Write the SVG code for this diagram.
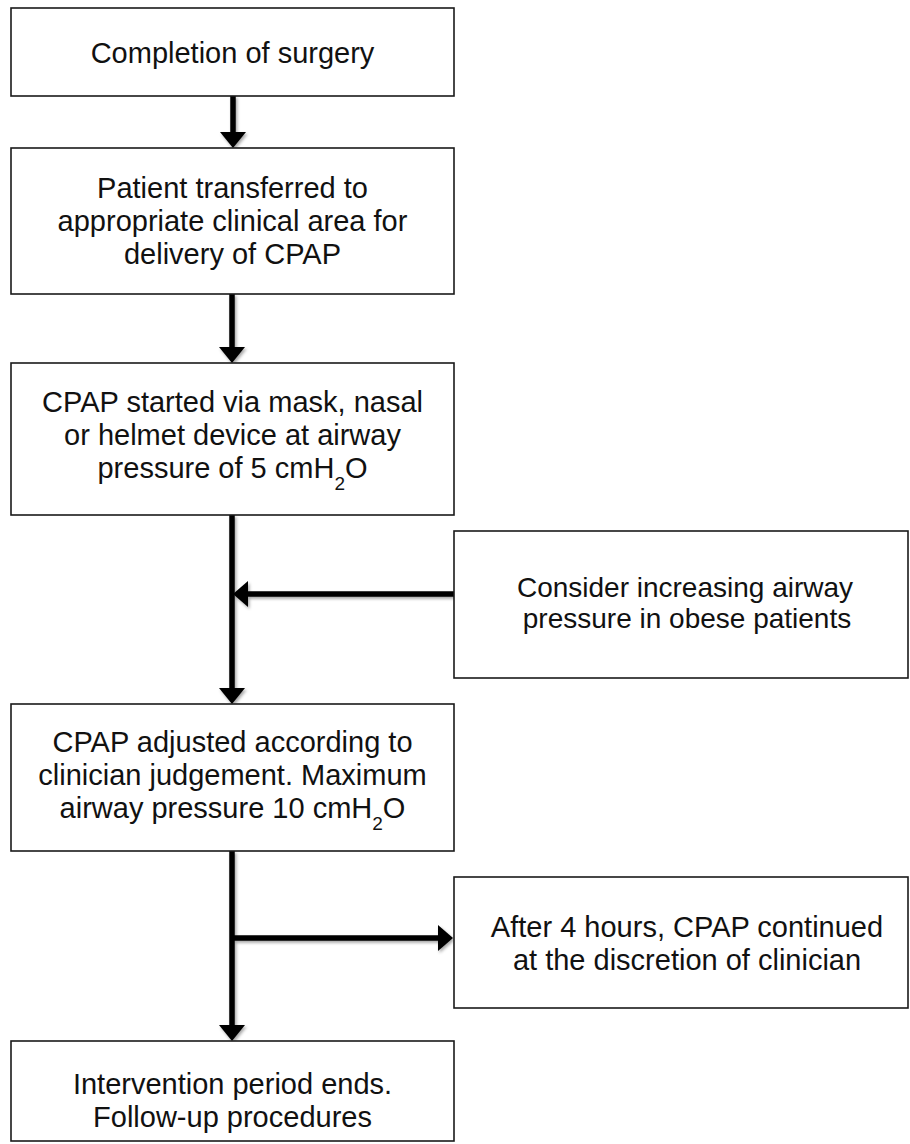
<svg xmlns="http://www.w3.org/2000/svg" width="910" height="1144" viewBox="0 0 910 1144">
<style>
.box{fill:#fff;stroke:#1a1a1a;stroke-width:1.6}
.t{font-family:"Liberation Sans",Arial,Helvetica,sans-serif;font-size:29px;fill:#111;text-anchor:middle}
.r{font-size:28px}
.sub{font-size:19px}
.ln{stroke:#000;stroke-width:5.5;fill:none}
.hd{fill:#000}
</style>
<defs>
<filter id="sh" x="-20%" y="-20%" width="140%" height="140%">
<feDropShadow dx="1.5" dy="2" stdDeviation="1.5" flood-color="#000" flood-opacity="0.35"/>
</filter>
</defs>
<rect width="910" height="1144" fill="#fff"/>
<g id="connectors" filter="url(#sh)">
<line class="ln" x1="233" y1="96" x2="233" y2="134"/>
<polygon class="hd" points="220,132 246,132 233,148"/>
<line class="ln" x1="232" y1="294" x2="232" y2="349"/>
<polygon class="hd" points="219,347 245,347 232,363"/>
<line class="ln" x1="232" y1="515" x2="232" y2="690"/>
<polygon class="hd" points="219,688 245,688 232,704"/>
<line class="ln" x1="454" y1="594" x2="246" y2="594"/>
<polygon class="hd" points="248,581 248,607 233,594"/>
<line class="ln" x1="232" y1="851" x2="232" y2="1027"/>
<polygon class="hd" points="219,1025 245,1025 232,1041"/>
<line class="ln" x1="232" y1="938" x2="440" y2="938"/>
<polygon class="hd" points="438,925 438,951 453,938"/>
</g>
<g id="n1">
<rect class="box" x="11" y="8" width="443" height="88"/>
<text class="t" x="232.5" y="63">Completion of surgery</text>
</g>
<g id="n2">
<rect class="box" x="11" y="148" width="443" height="146"/>
<text class="t" x="232.5" y="198">Patient transferred to</text>
<text class="t" x="232.5" y="231">appropriate clinical area for</text>
<text class="t" x="232.5" y="264">delivery of CPAP</text>
</g>
<g id="n3">
<rect class="box" x="11" y="363" width="443" height="152"/>
<text class="t" x="232.5" y="412">CPAP started via mask, nasal</text>
<text class="t" x="232.5" y="445">or helmet device at airway</text>
<text class="t" x="232.5" y="478">pressure of 5 cmH<tspan class="sub" dy="12">2</tspan><tspan dy="-12">O</tspan></text>
</g>
<g id="n4">
<rect class="box" x="454" y="531" width="454" height="147"/>
<text class="t r" x="685" y="597">Consider increasing airway</text>
<text class="t r" x="687" y="628">pressure in obese patients</text>
</g>
<g id="n5">
<rect class="box" x="11" y="704" width="443" height="147"/>
<text class="t" x="232.5" y="752">CPAP adjusted according to</text>
<text class="t" x="232.5" y="785">clinician judgement. Maximum</text>
<text class="t" x="232.5" y="818">airway pressure 10 cmH<tspan class="sub" dy="12">2</tspan><tspan dy="-12">O</tspan></text>
</g>
<g id="n6">
<rect class="box" x="454" y="877" width="454" height="131"/>
<text class="t" x="687" y="937">After 4 hours, CPAP continued</text>
<text class="t" x="687" y="970">at the discretion of clinician</text>
</g>
<g id="n7">
<rect class="box" x="11" y="1041" width="443" height="100"/>
<text class="t" x="232.5" y="1094">Intervention period ends.</text>
<text class="t" x="232.5" y="1127">Follow-up procedures</text>
</g>
</svg>
